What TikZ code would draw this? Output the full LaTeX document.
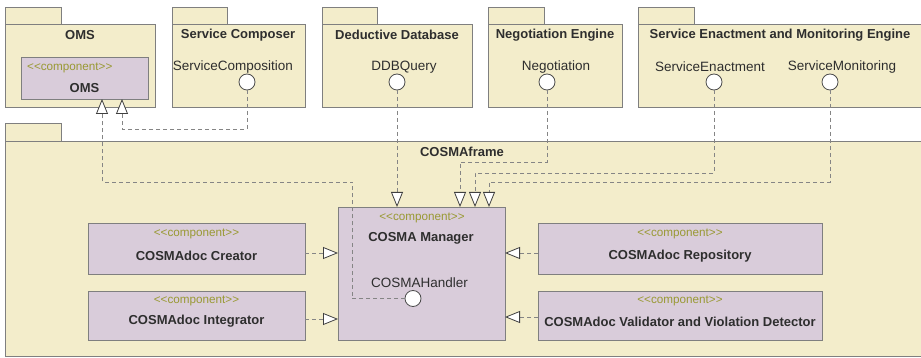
\documentclass[tikz,border=0pt]{standalone}
\usepackage{fontspec}
\setmainfont{Liberation Sans}
\newfontfamily\sterfont{Liberation Sans}
\usetikzlibrary{arrows.meta}
\definecolor{pkgfill}{HTML}{F3EDCB}
\definecolor{compfill}{HTML}{D9CCDA}
\definecolor{edgec}{HTML}{7F7F7F}
\definecolor{stereo}{HTML}{999933}
\definecolor{txt}{HTML}{2E2E2E}
\definecolor{depc}{HTML}{858585}
\newcommand{\stereotxt}{\sterfont <<component>>}
\begin{document}
\begin{tikzpicture}[x=1pt,y=-1pt,
 pkg/.style={draw=edgec,fill=pkgfill,line width=0.8pt,inner sep=0pt,outer sep=0pt},
 comp/.style={draw=edgec,fill=compfill,line width=0.8pt,inner sep=0pt,outer sep=0pt},
 ttl/.style={font=\fontsize{13}{15}\selectfont\bfseries,text=txt,inner sep=0pt},
 lbl/.style={font=\fontsize{13.5}{16}\selectfont,text=txt,inner sep=0pt},
 ster/.style={font=\fontsize{11.7}{14}\selectfont,text=stereo,inner sep=0pt},
 ball/.style={circle,draw=black!70,fill=white,line width=0.8pt,minimum size=16pt,inner sep=0pt,outer sep=0pt},
 depline/.style={draw=depc,line width=0.8pt,dash pattern=on 4pt off 3pt,
   -{Triangle[length=15pt,width=12pt,fill=white,color=black!75]}},
]
\useasboundingbox (0,0) rectangle (921,358);
\fill[white] (0,0) rectangle (921,358);

% ---------- top packages ----------
\node[pkg,minimum width=56pt,minimum height=17pt] (omstab) at (33,15.5) {};
\node[pkg,minimum width=150pt,minimum height=83pt] (omspkg) at (80,65.5) {};
\node[ttl] (omsttl) at (80,35) {OMS};
\node[comp,minimum width=127pt,minimum height=42pt] (omsc) at (84.5,78) {};
\node[ster,anchor=west] (omsster) at (27,68) {\stereotxt};
\node[ttl] (omsname) at (84.5,88) {OMS};

\node[pkg,minimum width=55pt,minimum height=17pt] (sctab) at (199.5,15.5) {};
\node[pkg,minimum width=133pt,minimum height=83pt] (scpkg) at (238.5,65.5) {};
\node[ttl] (scttl) at (238,35) {Service Composer};
\node[lbl] (sclbl) at (233,67) {ServiceComposition};
\node[ball] (scball) at (247,82) {};

\node[pkg,minimum width=55pt,minimum height=17pt] (ddbtab) at (349.5,15.5) {};
\node[pkg,minimum width=150pt,minimum height=83pt] (ddbpkg) at (397,65.5) {};
\node[ttl] (ddbttl) at (397,35) {Deductive Database};
\node[lbl] (ddblbl) at (404,67) {DDBQuery};
\node[ball] (ddbball) at (397,82) {};

\node[pkg,minimum width=56pt,minimum height=17pt] (negtab) at (516,15.5) {};
\node[pkg,minimum width=134pt,minimum height=83pt] (negpkg) at (555,65.5) {};
\node[ttl] (negttl) at (555,35) {Negotiation Engine};
\node[lbl] (neglbl) at (556,67) {Negotiation};
\node[ball] (negball) at (547,82) {};

\node[pkg,minimum width=56pt,minimum height=17pt] (semtab) at (666,15.5) {};
\node[pkg,minimum width=290pt,minimum height=83pt] (sempkg) at (783,65.5) {};
\node[ttl] (semttl) at (780,35) {Service Enactment and Monitoring Engine};
\node[lbl] (selbl) at (710,67) {ServiceEnactment};
\node[ball] (seball) at (714,82) {};
\node[lbl] (smlbl) at (842,67) {ServiceMonitoring};
\node[ball] (smball) at (830,82) {};

% ---------- COSMAframe ----------
\node[pkg,minimum width=56pt,minimum height=18pt] (cftab) at (33,132) {};
\node[pkg,minimum width=925pt,minimum height=215pt] (cfpkg) at (467.5,248.5) {};
\node[ttl] (cfttl) at (462,152) {COSMAframe};

\node[comp,minimum width=167pt,minimum height=133pt] (mgr) at (421.5,273.5) {};
\node[ster] (mgrster) at (422,218) {\stereotxt};
\node[ttl] (mgrname) at (421,238) {COSMA Manager};
\node[lbl] (hlbl) at (419.5,282.5) {COSMAHandler};
\node[ball] (hball) at (413,298.5) {};

\node[comp,minimum width=217pt,minimum height=51pt] (creator) at (196.5,248.5) {};
\node[ster] (crster) at (196.5,234) {\stereotxt};
\node[ttl] (crname) at (196.5,256) {COSMAdoc Creator};

\node[comp,minimum width=217pt,minimum height=49pt] (integr) at (196.5,315.5) {};
\node[ster] (inster) at (196.5,301) {\stereotxt};
\node[ttl] (inname) at (196.5,321.5) {COSMAdoc Integrator};

\node[comp,minimum width=284pt,minimum height=51pt] (repo) at (680,248.5) {};
\node[ster] (rpster) at (680,234) {\stereotxt};
\node[ttl] (rpname) at (680,256) {COSMAdoc Repository};

\node[comp,minimum width=284pt,minimum height=49pt] (valid) at (680,315.5) {};
\node[ster] (vlster) at (680,301) {\stereotxt};
\node[ttl] (vlname) at (680,321.5) {COSMAdoc Validator and Violation Detector};

% ---------- connectors ----------
\coordinate (scbend) at (247,129);
\draw[depline] (scball.south) -- (scbend) -| ([xshift=37.5pt]omsc.south);

\coordinate (hbend) at (352,182);
\draw[depline] (hball.west) -| (hbend) -| ([xshift=17.5pt]omsc.south);

\draw[depline] (ddbball.south) -- (ddbball.south |- mgr.north);

\coordinate (negbend) at (547,162);
\draw[depline] (negball.south) -- (negbend) -| ([xshift=38.5pt]mgr.north);

\coordinate (sebend) at (714,173);
\draw[depline] (seball.south) -- (sebend) -| ([xshift=53.5pt]mgr.north);

\coordinate (smbend) at (830,182);
\draw[depline] (smball.south) -- (smbend) -| ([xshift=67.5pt]mgr.north);

\draw[depline] ([yshift=-4.5pt]creator.east) -- ([yshift=-4.5pt]creator.east -| mgr.west);
\draw[depline] ([yshift=-3.5pt]integr.east) -- ([yshift=-3.5pt]integr.east -| mgr.west);
\draw[depline] ([yshift=-4.5pt]repo.west) -- ([yshift=-4.5pt]repo.west -| mgr.east);
\draw[depline] ([yshift=-1.5pt]valid.west) -- ([yshift=-1.5pt]valid.west -| mgr.east);
\end{tikzpicture}
\end{document}
